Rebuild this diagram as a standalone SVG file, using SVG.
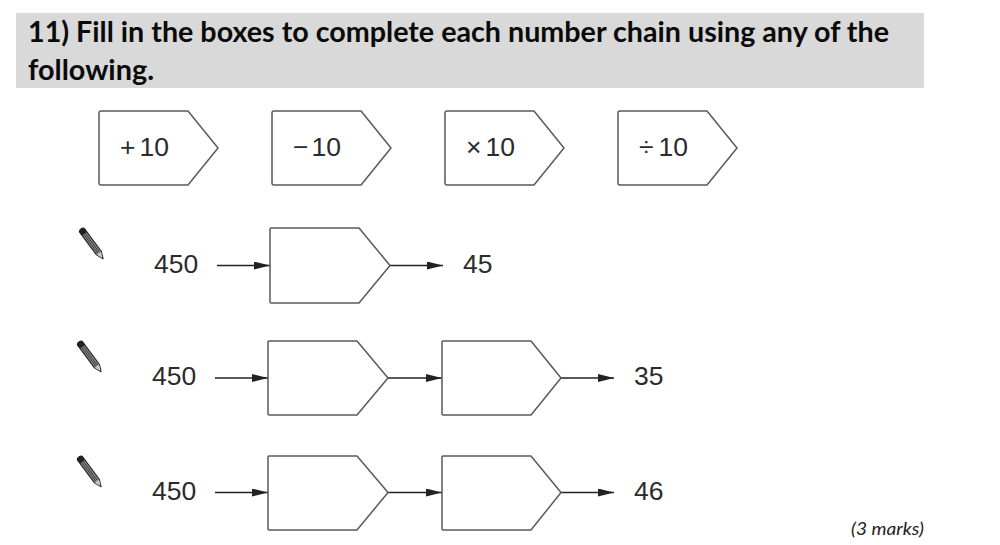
<svg xmlns="http://www.w3.org/2000/svg" width="1000" height="545" viewBox="0 0 1000 545">
<style>
.h{font:bold 28px Lato,"Open Sans",sans-serif;fill:#0a0a0a}
.n{font:26.500px "Liberation Sans",Arial,sans-serif;fill:#2b2b2b}
.b{fill:#fff;stroke:#5a5a5a;stroke-width:1.5;stroke-linejoin:round}
.c{fill:none;stroke:#222;stroke-width:1.3}
.m{font:italic 17px Lato,"Open Sans",sans-serif;fill:#222}
</style>
<defs>
<marker id="a" markerUnits="userSpaceOnUse" markerWidth="16" markerHeight="8" refX="16" refY="4" orient="auto"><path d="M0 0L16 4L0 8z" fill="#222"/></marker>
<g id="pencil" transform="rotate(53.4)"><path d="M2 -3H30L37 0L30 3H2Q0 3 0 0Q0 -3 2 -3z" fill="#888" stroke="#222" stroke-width="1.1" stroke-linejoin="round"/><path d="M0 0Q0 -3 2 -3H6V3H2Q0 3 0 0z" fill="#222"/><path d="M6 -.800H30M6 1H30" fill="none" stroke="#222" stroke-width=".7"/><path d="M30 -2.600L36 0L30 2.600z" fill="#ccc"/></g>
</defs>
<rect x="16" y="13" width="908" height="75" fill="#d9d9d9"/>
<text class="h" x="28" y="42" textLength="861" lengthAdjust="spacingAndGlyphs">11) Fill in the boxes to complete each number chain using any of the</text>
<text class="h" x="28" y="80" textLength="126" lengthAdjust="spacingAndGlyphs">following.</text>

<g id="op-plus"><path class="b" d="M101 111H188L218 148L188 185H101Q99 185 99 183V113Q99 111 101 111z"/><text class="n" x="120" y="156">+</text><text class="n" x="139.500" y="156">10</text></g>
<g id="op-minus"><path class="b" d="M274 111H361L391 148L361 185H274Q272 185 272 183V113Q272 111 274 111z"/><text class="n" x="293" y="156">−</text><text class="n" x="311.500" y="156">10</text></g>
<g id="op-times"><path class="b" d="M447 111H534L564 148L534 185H447Q445 185 445 183V113Q445 111 447 111z"/><text class="n" x="466" y="156">×</text><text class="n" x="485.500" y="156">10</text></g>
<g id="op-divide"><path class="b" d="M620 111H707L737 148L707 185H620Q618 185 618 183V113Q618 111 620 111z"/><text class="n" x="639" y="156">÷</text><text class="n" x="658.500" y="156">10</text></g>

<g id="connectors">
<path class="c" marker-end="url(#a)" d="M217 265.500H270"/>
<path class="c" marker-end="url(#a)" d="M390 265.500H443"/>
<path class="c" marker-end="url(#a)" d="M215 378H268"/>
<path class="c" marker-end="url(#a)" d="M388 378H442"/>
<path class="c" marker-end="url(#a)" d="M561 378H614"/>
<path class="c" marker-end="url(#a)" d="M215 492.500H268"/>
<path class="c" marker-end="url(#a)" d="M388 492.500H442"/>
<path class="c" marker-end="url(#a)" d="M561 492.500H614"/>
</g>

<g id="chain-1"><use href="#pencil" x="81" y="229"/><text class="n" x="154" y="273">450</text><path class="b" d="M271 228H359L390 265.500L359 303H271Q270 303 270 302V229Q270 228 271 228z"/><text class="n" x="463" y="273">45</text></g>
<g id="chain-2"><use href="#pencil" x="79" y="342"/><text class="n" x="152" y="385">450</text><path class="b" d="M269 341H357L388 378L357 415H269Q268 415 268 414V342Q268 341 269 341z"/><path class="b" d="M443 341H531L561 378L531 415H443Q442 415 442 414V342Q442 341 443 341z"/><text class="n" x="634" y="385">35</text></g>
<g id="chain-3"><use href="#pencil" x="79" y="457"/><text class="n" x="152" y="500">450</text><path class="b" d="M269 456H357L388 492.500L357 530H269Q268 530 268 529V457Q268 456 269 456z"/><path class="b" d="M443 456H531L561 492.500L531 530H443Q442 530 442 529V457Q442 456 443 456z"/><text class="n" x="634" y="500">46</text></g>
<text class="m" x="851" y="535" textLength="73" lengthAdjust="spacingAndGlyphs">(3 marks)</text>
</svg>
